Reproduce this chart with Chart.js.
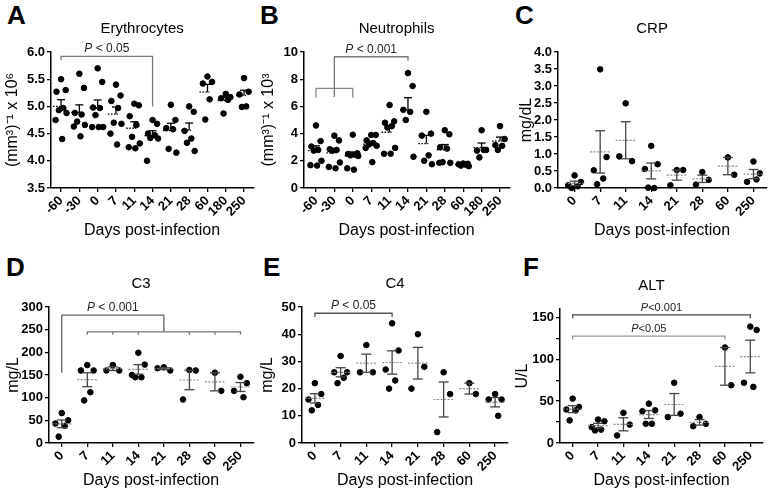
<!DOCTYPE html>
<html>
<head>
<meta charset="utf-8">
<script src="https://cdn.jsdelivr.net/npm/chart.js"></script>
<style>
  body { margin: 0; width: 770px; height: 496px; background: #fff; position: relative; overflow: hidden;
         font-family: "Liberation Sans", Arial, sans-serif; }
  canvas { position: absolute; }
  .lbl { position: absolute; font-weight: bold; font-size: 26px; line-height: 26px; color: #000; }
</style>
</head>
<body>
<div class="lbl" style="left:7px;top:2px">A</div>
<div class="lbl" style="left:260px;top:2px">B</div>
<div class="lbl" style="left:515px;top:2px">C</div>
<div class="lbl" style="left:6px;top:254px">D</div>
<div class="lbl" style="left:263px;top:254px">E</div>
<div class="lbl" style="left:523px;top:254px">F</div>

<canvas id="cA" width="257" height="248" style="left:0;top:0"></canvas>
<canvas id="cB" width="256" height="248" style="left:257px;top:0"></canvas>
<canvas id="cC" width="257" height="248" style="left:513px;top:0"></canvas>
<canvas id="cD" width="257" height="248" style="left:0;top:248px"></canvas>
<canvas id="cE" width="256" height="248" style="left:257px;top:248px"></canvas>
<canvas id="cF" width="257" height="248" style="left:513px;top:248px"></canvas>

<script>
// days post-infection (tick labels)
var daysLong = ['-60', '-30', '0', '7', '11', '14', '21', '28', '60', '180', '250'];
var daysShort = ['0', '7', '11', '14', '21', '28', '60', '250'];

// individual values per day
var erythrocytes = [
  [5.50, 5.30, 5.27, 4.97, 4.93, 4.88, 4.75, 4.40],
  [5.60, 5.34, 4.88, 4.85, 4.72, 4.66, 4.63, 4.45],
  [5.70, 5.45, 4.98, 4.97, 4.84, 4.62, 4.62, 4.62],
  [5.40, 5.20, 5.10, 4.97, 4.70, 4.68, 4.50, 4.30],
  [5.05, 5.02, 4.82, 4.66, 4.44, 4.32, 4.25, 4.23],
  [4.75, 4.68, 4.50, 4.47, 4.42, 4.41, 4.00],
  [5.03, 4.75, 4.60, 4.58, 4.22, 4.15],
  [5.00, 4.90, 4.55, 4.41, 4.33, 4.18],
  [5.55, 5.45, 5.42, 5.13, 4.76],
  [5.23, 5.17, 5.15, 5.12, 4.87],
  [5.52, 5.27, 5.22, 5.00, 4.99]
];
var neutrophils = [
  [4.60, 3.45, 3.05, 2.80, 2.75, 2.00, 1.68, 1.65],
  [3.85, 3.50, 2.85, 2.80, 2.75, 1.88, 1.55, 1.45],
  [3.92, 2.55, 2.50, 2.45, 2.40, 2.35, 1.45, 1.35],
  [3.90, 3.90, 3.50, 3.30, 3.20, 3.10, 2.95, 1.90],
  [6.10, 4.90, 4.80, 4.55, 4.45, 2.95, 2.52, 2.52],
  [8.45, 7.50, 5.75, 5.60, 5.00, 2.30],
  [5.60, 4.00, 3.85, 2.40, 2.00, 1.75],
  [4.25, 3.95, 3.00, 2.90, 1.90, 1.85, 1.85],
  [1.80, 1.78, 1.75, 1.72, 1.65, 1.60],
  [4.25, 2.80, 2.75, 2.80, 2.25],
  [4.55, 3.60, 3.15, 3.10, 2.80]
];
var crp = [
  [0.37, 0.18, 0.08, 0.05, 0.00],
  [3.49, 0.91, 0.52, 0.28, 0.11],
  [2.49, 0.79, 0.93],
  [1.24, 0.70, 0.56, 0.00, 0.01],
  [0.53, 0.53, 0.08],
  [0.47, 0.24, 0.10],
  [0.90, 0.39],
  [0.78, 0.43, 0.18, 0.25]
];
var c3 = [[66, 50, 43, 38, 14], [172, 160, 160, 112, 94], [172, 160, 160], [199, 173, 150, 145, 145],
          [167, 160, 165], [161, 160, 96], [155, 115], [146, 132, 115, 101]];
var c4 = [[22, 18, 16, 14, 12], [32, 26, 26, 24, 22], [36, 26, 26], [44, 34, 27, 23, 20],
          [40, 28, 20], [26, 18, 4], [22, 18], [18, 16, 16, 10]];
var alt = [[53, 43, 40, 39, 27], [28, 26, 19, 16, 15], [36, 22, 9], [47, 39, 38, 23, 23],
           [72, 35, 31], [31, 23, 20], [114, 69], [139, 135, 72, 67]];

var FONT = '"Liberation Sans", Arial, sans-serif';
var JITTER = [0, 0.25, -0.25, 0.12, -0.12, 0.3, -0.3, 0.06];

function mean(a) { return a.reduce(function (s, v) { return s + v; }, 0) / a.length; }
function sem(a) {
  var m = mean(a);
  return Math.sqrt(a.reduce(function (s, v) { return s + (v - m) * (v - m); }, 0) / (a.length - 1) / a.length);
}
function toPoints(groups) {
  var pts = [];
  groups.forEach(function (vals, i) {
    vals.forEach(function (v, k) { pts.push({ x: i + JITTER[k % JITTER.length], y: v }); });
  });
  return pts;
}

function drawP(ctx, cx, by, rest, size) {
  ctx.font = 'italic ' + size + 'px ' + FONT;
  var w1 = ctx.measureText('P').width;
  ctx.font = size + 'px ' + FONT;
  var w2 = ctx.measureText(rest).width;
  var x0 = cx - (w1 + w2) / 2;
  ctx.textAlign = 'left';
  ctx.textBaseline = 'alphabetic';
  ctx.font = 'italic ' + size + 'px ' + FONT;
  ctx.fillText('P', x0, by);
  ctx.font = size + 'px ' + FONT;
  ctx.fillText(rest, x0 + w1, by);
}

var panelPlugin = {
  id: 'panel',
  afterDatasetsDraw: function (chart, args, o) {
    var ctx = chart.ctx, a = chart.chartArea, x = chart.scales.x, y = chart.scales.y;
    function line(x1, y1, x2, y2) { ctx.beginPath(); ctx.moveTo(x1, y1); ctx.lineTo(x2, y2); ctx.stroke(); }
    ctx.save();
    ctx.fillStyle = '#000';
    ctx.font = '15px ' + FONT;
    ctx.textAlign = 'center';
    ctx.textBaseline = 'middle';
    ctx.fillText(o.title, (a.left + a.right) / 2 - 10, a.top - 23);

    // mean and SEM
    o.groups.forEach(function (vals, i) {
      var m = mean(vals), s = sem(vals);
      var px = x.getPixelForValue(i), pm = y.getPixelForValue(m);
      var pu = y.getPixelForValue(m + s), pl = y.getPixelForValue(m - s);
      if (o.upperOnly) {
        ctx.strokeStyle = '#000'; ctx.lineWidth = 1.3;
        ctx.setLineDash([1.5, 1.5]); line(px - 8, pm, px + 2, pm);
        ctx.setLineDash([]); line(px, pm, px, pu); line(px - 4, pu, px + 4, pu);
      } else {
        ctx.strokeStyle = '#8c8c8c'; ctx.lineWidth = 1.2;
        ctx.setLineDash([2, 1.5]); line(px - 10, pm, px + 10, pm);
        ctx.setLineDash([]);
        ctx.strokeStyle = '#444'; ctx.lineWidth = 1.3;
        line(px, pu, px, pl); line(px - 5, pu, px + 5, pu); line(px - 5, pl, px + 5, pl);
      }
    });

    // significance brackets
    (o.brackets || []).forEach(function (b) {
      var x1 = x.getPixelForValue(b.from), x2 = x.getPixelForValue(b.to), yy = y.getPixelForValue(b.at);
      ctx.strokeStyle = b.color; ctx.lineWidth = 1.3;
      ctx.beginPath();
      ctx.moveTo(x1, y.getPixelForValue(b.leftTo));
      ctx.lineTo(x1, yy); ctx.lineTo(x2, yy);
      ctx.lineTo(x2, y.getPixelForValue(b.rightTo));
      (b.drops || []).forEach(function (d) {
        var dx = x.getPixelForValue(d);
        ctx.moveTo(dx, yy); ctx.lineTo(dx, y.getPixelForValue(b.dropTo));
      });
      ctx.stroke();
      if (b.text) {
        ctx.fillStyle = '#222';
        drawP(ctx, (x1 + x2) / 2, yy - 4, b.text, b.size || 12);
      }
    });
    ctx.restore();
  }
};

function panel(id, o) {
  var days = o.days;
  new Chart(document.getElementById(id), {
    type: 'scatter',
    data: {
      datasets: [{
        data: toPoints(o.groups),
        backgroundColor: '#000', borderColor: '#000',
        pointRadius: 2.8, pointHoverRadius: 2.8, clip: false
      }]
    },
    options: {
      responsive: false, animation: false, events: [],
      layout: { padding: { top: o.padTop, right: o.padRight, left: 0, bottom: 0 } },
      plugins: {
        legend: { display: false }, tooltip: { enabled: false },
        panel: { title: o.title, groups: o.groups, upperOnly: o.upperOnly, brackets: o.brackets }
      },
      scales: {
        x: {
          type: 'linear', min: o.xMin, max: days.length - 0.5,
          afterBuildTicks: function (s) { s.ticks = days.map(function (d, i) { return { value: i }; }); },
          afterFit: function (s) { s.height = o.xH; },
          ticks: {
            autoSkip: false, minRotation: 45, maxRotation: 45, padding: 1, color: '#000',
            font: { family: FONT, size: 13, weight: 'bold' },
            callback: function (v) { return days[v]; }
          },
          grid: { drawOnChartArea: false, tickLength: 4, color: '#000', lineWidth: 1.3 },
          border: { color: '#000', width: 1.5 },
          title: { display: true, text: 'Days post-infection', color: '#000',
                   font: { family: FONT, size: 16 }, padding: { top: 0, bottom: o.xTitlePad } }
        },
        y: {
          min: o.yMin, max: o.yMax,
          afterBuildTicks: function (s) {
            var t = [];
            for (var k = 0; o.yMin + k * o.step <= o.yTop + 1e-9; k++) t.push({ value: o.yMin + k * o.step });
            s.ticks = t;
          },
          afterFit: function (s) { s.width = o.yW; },
          ticks: {
            autoSkip: false, padding: 2, color: '#000',
            font: { family: FONT, size: 13, weight: 'bold' },
            callback: o.fmt
          },
          grid: { drawOnChartArea: false, tickLength: 4, color: '#000', lineWidth: 1.3 },
          border: { color: '#000', width: 1.5 },
          title: { display: true, text: o.yTitle, color: '#000',
                   font: { family: FONT, size: 16 }, padding: { top: o.yTitlePad, bottom: 0 } }
        }
      }
    },
    plugins: [panelPlugin]
  });
}

var oneDec = function (v) { return v.toFixed(1); };
var plain = function (v) { return Math.round(v); };

panel('cA', {
  days: daysLong, groups: erythrocytes, title: 'Erythrocytes', upperOnly: true,
  yTitle: '(mm\u00B3)\u207B\u00B9 x 10\u2076', yMin: 3.5, yMax: 6.0, yTop: 6.0, step: 0.5, fmt: oneDec,
  xMin: -0.55, yW: 51, padTop: 52, padRight: 1, xH: 60, xTitlePad: 8, yTitlePad: 3,
  brackets: [{ from: 0, to: 5, at: 5.92, leftTo: 5.85, rightTo: 5.0, color: '#777', text: ' < 0.05' }]
});
panel('cB', {
  days: daysLong, groups: neutrophils, title: 'Neutrophils', upperOnly: true,
  yTitle: '(mm\u00B3)\u207B\u00B9 x 10\u00B3', yMin: 0, yMax: 10, yTop: 10, step: 2, fmt: plain,
  xMin: -0.65, yW: 47, padTop: 52, padRight: 2, xH: 60, xTitlePad: 8, yTitlePad: 2,
  brackets: [
    { from: 1, to: 5, at: 9.65, leftTo: 6.7, rightTo: 9.35, color: '#777', text: ' < 0.001' },
    { from: 0, to: 2, at: 7.33, leftTo: 6.65, rightTo: 6.65, color: '#888' }
  ]
});
panel('cC', {
  days: daysShort, groups: crp, title: 'CRP', upperOnly: false,
  yTitle: 'mg/dL', yMin: 0, yMax: 4, yTop: 4, step: 0.5, fmt: oneDec,
  xMin: -0.65, yW: 45, padTop: 52, padRight: 3, xH: 60, xTitlePad: 8, yTitlePad: 4
});
panel('cD', {
  days: daysShort, groups: c3, title: 'C3', upperOnly: false,
  yTitle: 'mg/L', yMin: 0, yMax: 300, yTop: 300, step: 50, fmt: plain,
  xMin: -0.5, yW: 49, padTop: 59, padRight: 3, xH: 53, xTitlePad: 6, yTitlePad: 4,
  brackets: [
    { from: 0, to: 4, at: 282, leftTo: 155, rightTo: 245, color: '#666', text: ' < 0.001' },
    { from: 1, to: 7, at: 245, leftTo: 239, rightTo: 239, drops: [2, 3, 5, 6], dropTo: 239, color: '#777' }
  ]
});
panel('cE', {
  days: daysShort, groups: c4, title: 'C4', upperOnly: false,
  yTitle: 'mg/L', yMin: 0, yMax: 50, yTop: 50, step: 10, fmt: plain,
  xMin: -0.5, yW: 45, padTop: 59, padRight: 5, xH: 53, xTitlePad: 6, yTitlePad: 1,
  brackets: [{ from: 0, to: 3, at: 47.7, leftTo: 46.3, rightTo: 46.3, color: '#555', text: ' < 0.05' }]
});
panel('cF', {
  days: daysShort, groups: alt, title: 'ALT', upperOnly: false,
  yTitle: 'U/L', yMin: 0, yMax: 160, yTop: 150, step: 25,
  fmt: function (v) { return v % 50 === 0 ? v : ''; },
  xMin: -0.5, yW: 47, padTop: 61, padRight: 7, xH: 53, xTitlePad: 6, yTitlePad: 0,
  brackets: [
    { from: 0, to: 7, at: 153, leftTo: 149, rightTo: 149, color: '#444', text: '<0.001', size: 11 },
    { from: 0, to: 6, at: 127.5, leftTo: 123.5, rightTo: 123.5, color: '#999', text: '<0.05', size: 11 }
  ]
});
</script>
</body>
</html>
